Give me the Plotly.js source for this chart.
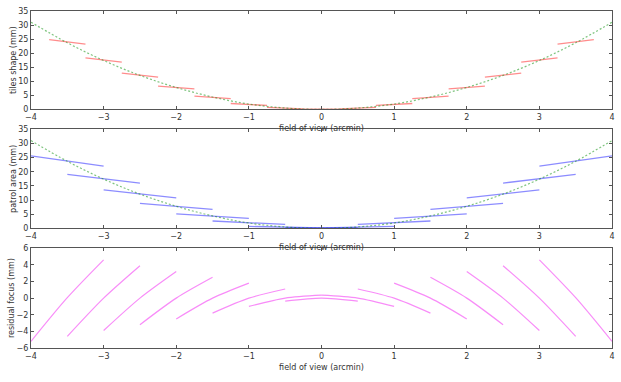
<!DOCTYPE html>
<html>
<head>
<meta charset="utf-8">
<script src="https://cdn.plot.ly/plotly-3.0.1.min.js"></script>
<style>
  html, body { margin: 0; padding: 0; background: #fff; }
  #fig { width: 621px; height: 382px; }
</style>
</head>
<body>
<div id="fig"></div>
<script>
// tile centres (arcmin), shared by all three panels
var centers = [-3.5, -3, -2.5, -2, -1.5, -1, -0.5, 0, 0.5, 1, 1.5, 2, 2.5, 3, 3.5];

// ideal focal surface (green dotted curve)
var curveX = [-4, -3.5, -3, -2.5, -2, -1.5, -1, -0.5, 0, 0.5, 1, 1.5, 2, 2.5, 3, 3.5, 4];
var curveY = [31.0, 23.7, 17.4, 12.1, 7.8, 4.4, 1.9, 0.5, 0, 0.5, 1.9, 4.4, 7.8, 12.1, 17.4, 23.7, 31.0];

// tiles shape: value at left / right end of each tile
var tileLeft  = [24.8, 18.3, 12.9, 8.3, 4.7, 2.1, 0.7, 0.05, 0.2, 1.4, 3.8, 7.3, 11.5, 16.8, 23.2];
var tileRight = [23.2, 16.8, 11.5, 7.3, 3.8, 1.4, 0.2, 0.05, 0.7, 2.1, 4.7, 8.3, 12.9, 18.3, 24.8];

// patrol area: value at left / right end
var patrolLeft  = [25.6, 19.1, 13.6, 8.8, 5.1, 2.6, 0.7, 0.15, 0.2, 1.4, 3.5, 6.7, 10.8, 16.0, 22.0];
var patrolRight = [22.0, 16.0, 10.8, 6.7, 3.5, 1.4, 0.2, 0.15, 0.7, 2.6, 5.1, 8.8, 13.6, 19.1, 25.6];

// residual focus: left end, centre, right end of each arc
var residLeft  = [-5.2, -4.6, -3.9, -3.2, -2.5, -1.8, -1.0, -0.35, 0.35, 1.1, 1.8, 2.5, 3.2, 3.9, 4.6];
var residMid   = [0.05, 0, 0, 0, 0, 0, 0, 0, 0, 0, 0, 0, 0, 0, 0.05];
var residRight = [4.6, 3.9, 3.2, 2.5, 1.8, 1.1, 0.35, -0.35, -1.0, -1.8, -2.5, -3.2, -3.9, -4.6, -5.2];

var tileWidth = 0.5;
var patrolWidth = 1.0;

function segments(half, left, right, mid) {
  var xs = [], ys = [];
  centers.forEach(function (c, i) {
    xs.push(c - half);
    ys.push(left[i]);
    if (mid) { xs.push(c); ys.push(mid[i]); }
    xs.push(c + half);
    ys.push(right[i]);
    xs.push(null);
    ys.push(null);
  });
  return {x: xs, y: ys};
}

var tiles = segments(tileWidth / 2, tileLeft, tileRight);
var patrol = segments(patrolWidth / 2, patrolLeft, patrolRight);
var resid = segments(patrolWidth / 2, residLeft, residRight, residMid);

var green = {color: 'rgba(0,140,0,0.5)', width: 1.2, dash: '2px,2px'};

var data = [
  {x: tiles.x, y: tiles.y, mode: 'lines', xaxis: 'x', yaxis: 'y',
   line: {color: 'rgba(255,0,0,0.45)', width: 1.3}},
  {x: curveX, y: curveY, mode: 'lines', xaxis: 'x', yaxis: 'y',
   line: Object.assign({shape: 'spline'}, green)},
  {x: patrol.x, y: patrol.y, mode: 'lines', xaxis: 'x2', yaxis: 'y2',
   line: {color: 'rgba(0,0,255,0.45)', width: 1.3}},
  {x: curveX, y: curveY, mode: 'lines', xaxis: 'x2', yaxis: 'y2',
   line: Object.assign({shape: 'spline'}, green)},
  {x: resid.x, y: resid.y, mode: 'lines', xaxis: 'x3', yaxis: 'y3',
   line: {color: 'rgba(240,0,240,0.45)', width: 1.2, shape: 'spline', smoothing: 0.8}}
];

var font = {family: 'DejaVu Sans', size: 8, color: '#333'};

function xAxis(anchor) {
  return {
    anchor: anchor, domain: [0, 1], range: [-4, 4], dtick: 1, tick0: 0,
    showline: true, mirror: 'ticks', linecolor: '#555', linewidth: 1,
    ticks: 'inside', ticklen: 3, tickcolor: '#555',
    showgrid: false, zeroline: false, tickfont: font,
    title: {text: 'field of view (arcmin)', font: font, standoff: 4}
  };
}

function yAxis(anchor, domain, range, dtick, label) {
  return {
    anchor: anchor, domain: domain, range: range, dtick: dtick,
    showline: true, mirror: 'ticks', linecolor: '#555', linewidth: 1,
    ticks: 'inside', ticklen: 3, tickcolor: '#555',
    showgrid: false, zeroline: false, tickfont: font,
    title: {text: label, font: font, standoff: 0}
  };
}

var layout = {
  width: 621,
  height: 382,
  margin: {l: 31, r: 9, t: 11, b: 34},
  showlegend: false,
  paper_bgcolor: '#fff',
  plot_bgcolor: '#fff',
  font: font,
  xaxis: xAxis('y'),
  xaxis2: xAxis('y2'),
  xaxis3: xAxis('y3'),
  yaxis: yAxis('x', [0.708, 1], [0, 35], 5, 'tiles shape (mm)'),
  yaxis2: yAxis('x2', [0.355, 0.649], [0, 35], 5, 'patrol area (mm)'),
  yaxis3: yAxis('x3', [0, 0.296], [-6, 6], 2, 'residual focus (mm)')
};

Plotly.newPlot('fig', data, layout, {displayModeBar: false, staticPlot: true});
</script>
</body>
</html>
